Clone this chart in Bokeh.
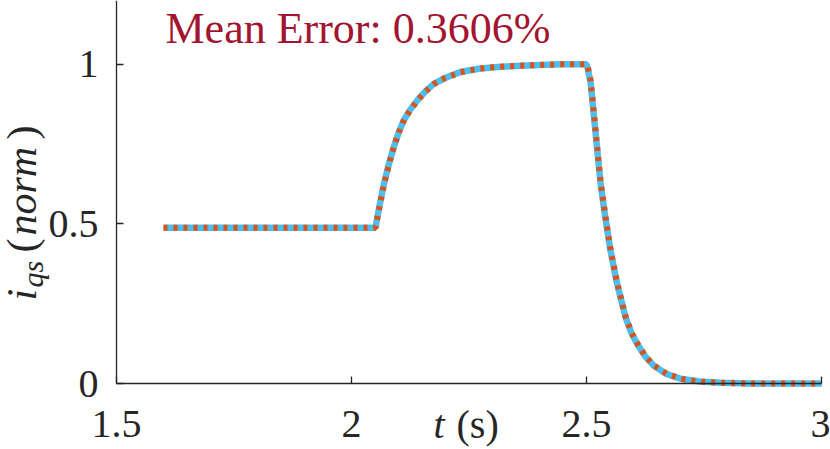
from bokeh.plotting import figure
from bokeh.models import Range1d, FixedTicker, Label, LinearAxis
from bokeh.embed import file_html
from bokeh.resources import INLINE
import math

# ---- data ----
time_s = [1.600, 2.050, 2.051, 2.060, 2.069, 2.080, 2.090, 2.100, 2.111, 2.125,
          2.140, 2.157, 2.175, 2.200, 2.232, 2.270, 2.303, 2.350, 2.400, 2.445,
          2.500, 2.503, 2.509, 2.516, 2.523, 2.530, 2.540, 2.551, 2.565, 2.583,
          2.595, 2.608, 2.625, 2.643, 2.670, 2.700, 2.740, 2.786, 2.850, 2.920,
          3.000]
iqs_measured = [0.488, 0.488, 0.488, 0.560, 0.626, 0.690, 0.741, 0.785, 0.824, 0.858,
                0.887, 0.915, 0.939, 0.958, 0.976, 0.986, 0.991, 0.995, 0.998, 1.000,
                1.000, 0.985, 0.940, 0.835, 0.730, 0.626, 0.521, 0.417, 0.313, 0.208,
                0.160, 0.124, 0.085, 0.056, 0.030, 0.015, 0.006, 0.002, 0.000, 0.000,
                0.000]
iqs_model = [0.488, 0.488, 0.488, 0.556, 0.622, 0.688, 0.740, 0.784, 0.823, 0.857,
             0.886, 0.914, 0.938, 0.958, 0.975, 0.986, 0.991, 0.995, 0.998, 1.000,
             1.000, 0.990, 0.948, 0.842, 0.737, 0.632, 0.526, 0.421, 0.316, 0.211,
             0.162, 0.126, 0.086, 0.057, 0.031, 0.015, 0.006, 0.002, 0.000, 0.000,
             0.000]

x_ticks = [1.5, 2.0, 2.5, 3.0]
x_tick_labels = ["1.5", "2", "2.5", "3"]
y_ticks = [0.0, 0.5, 1.0]
y_tick_labels = ["0", "0.5", "1"]
x_axis_bounds = (1.5, 3.0)
y_axis_bounds = (0.0, 1.2)

error_text = "Mean Error: 0.3606%"

# ---- layout: the frame fills the canvas; axes sit at fixed locations ----
W, H = 830, 449
AXIS_LEFT_PX, AXIS_RIGHT_PX, AXIS_BOTTOM_PX, AXIS_TOP_PX = 116, 821, 383, 0
PXX = (AXIS_RIGHT_PX - AXIS_LEFT_PX) / (x_axis_bounds[1] - x_axis_bounds[0])
PXY = (AXIS_BOTTOM_PX - AXIS_TOP_PX) / (y_axis_bounds[1] - y_axis_bounds[0])
BASELINE_FIX = 0.34  # em; Label's alphabetic baseline sits this far below the anchor


def dx(page_x):
    return x_axis_bounds[0] + (page_x - AXIS_LEFT_PX) / PXX


def dy(page_y):
    return y_axis_bounds[0] + (AXIS_BOTTOM_PX - page_y) / PXY


AX = "#262626"
SERIF = "Liberation Serif"

p = figure(width=W, height=H, output_backend="svg", toolbar_location=None,
           x_range=Range1d(dx(0), dx(W)), y_range=Range1d(dy(H), dy(0)),
           x_axis_location=None, y_axis_location=None,
           min_border=0)
p.outline_line_color = None
p.grid.visible = False
p.background_fill_color = "white"
p.border_fill_color = "white"

p.line(time_s, iqs_measured, line_color="#4DBEEE", line_width=6.5)
p.line(time_s, iqs_model, line_color="#D95319", line_width=6, line_dash="4 6")

xaxis = LinearAxis(fixed_location=y_axis_bounds[0], bounds=x_axis_bounds,
                   ticker=FixedTicker(ticks=x_ticks),
                   major_label_overrides={t: s for t, s in zip(x_ticks, x_tick_labels)},
                   major_label_standoff=27)
yaxis = LinearAxis(fixed_location=x_axis_bounds[0], bounds=y_axis_bounds,
                   ticker=FixedTicker(ticks=y_ticks),
                   major_label_overrides={t: s for t, s in zip(y_ticks, y_tick_labels)},
                   major_label_standoff=18)
for ax in (xaxis, yaxis):
    ax.axis_line_color = AX
    ax.axis_line_width = 1.3
    ax.major_tick_line_color = AX
    ax.major_tick_line_width = 1.3
    ax.major_tick_in = 7
    ax.major_tick_out = 0
    ax.minor_tick_line_color = None
    ax.major_label_text_font = SERIF
    ax.major_label_text_font_size = "40px"
    ax.major_label_text_color = AX
p.add_layout(xaxis, "below")
p.add_layout(yaxis, "left")


def add_text(page_x, page_y, text, size, italic=False, color=AX, align="left", rotated=False):
    fix = BASELINE_FIX * size
    if rotated:
        px, py, angle = page_x - fix, page_y, math.pi / 2
    else:
        px, py, angle = page_x, page_y - fix, 0.0
    p.add_layout(Label(x=dx(px), y=dy(py),
                       text=text, text_font=SERIF, text_font_size=f"{size}px",
                       text_font_style="italic" if italic else "normal",
                       text_color=color, text_align=align,
                       text_baseline="alphabetic", angle=angle))


# annotation inside the axes
add_text(165, 43, error_text, 44, color="#A2142F")

# x axis label: italic t, upright (s)
add_text(444, 438, "t", 40, italic=True, align="right")
add_text(456, 438, "(s)", 40)

# y axis label: i_qs(norm), rotated
base_x = 36
add_text(base_x, 300, "i", 42, italic=True, rotated=True)
add_text(base_x + 6, 287, "qs", 30, italic=True, rotated=True)
add_text(base_x, 252, "(", 42, rotated=True)
add_text(base_x, 235, "norm", 42, italic=True, rotated=True)
add_text(base_x, 139, ")", 42, rotated=True)

open("out.html", "w").write(file_html(p, INLINE))
